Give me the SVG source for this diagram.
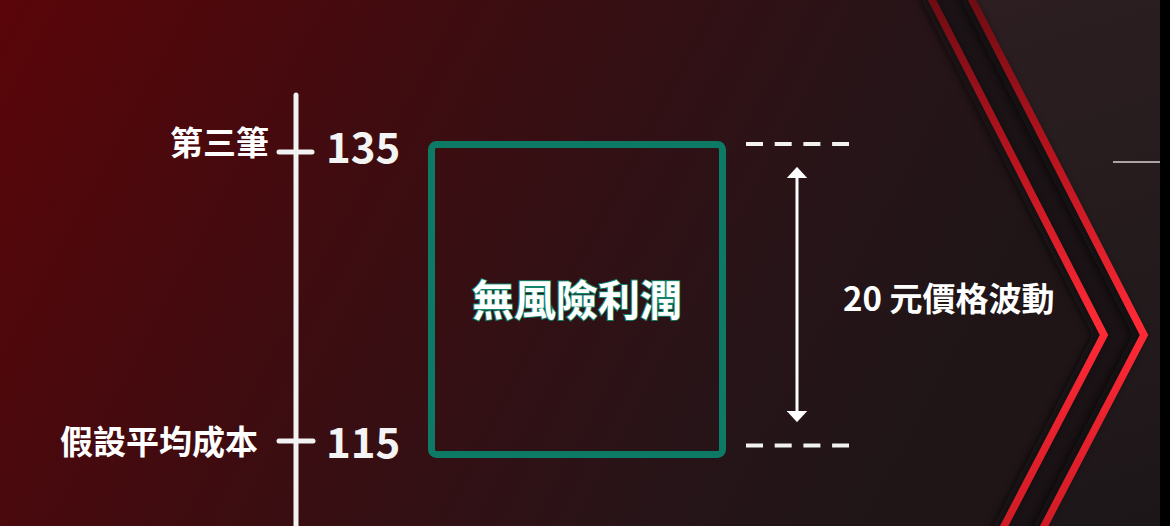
<svg xmlns="http://www.w3.org/2000/svg" width="1170" height="526" viewBox="0 0 1170 526">
  <defs>
    <linearGradient id="bg" gradientUnits="userSpaceOnUse" x1="0" y1="0" x2="900" y2="480">
      <stop offset="0" stop-color="#5a0509"/>
      <stop offset="0.45" stop-color="#3b0d11"/>
      <stop offset="0.8" stop-color="#271418"/>
      <stop offset="1" stop-color="#1f1517"/>
    </linearGradient>
    <linearGradient id="rightbg" gradientUnits="userSpaceOnUse" x1="1000" y1="0" x2="1160" y2="526">
      <stop offset="0" stop-color="#2c1e21"/>
      <stop offset="0.5" stop-color="#241b1d"/>
      <stop offset="1" stop-color="#1d1618"/>
    </linearGradient>
    <linearGradient id="red" gradientUnits="userSpaceOnUse" x1="0" y1="0" x2="0" y2="526">
      <stop offset="0" stop-color="#6e0c13"/>
      <stop offset="0.3" stop-color="#b8141f"/>
      <stop offset="0.62" stop-color="#ff2a36"/>
      <stop offset="1" stop-color="#d01b26"/>
    </linearGradient>
    <filter id="blur" x="-20%" y="-20%" width="140%" height="140%">
      <feGaussianBlur stdDeviation="4"/>
    </filter>
    <marker id="ah" viewBox="0 0 10 10" refX="2" refY="5" markerWidth="3.8" markerHeight="7" markerUnits="strokeWidth" orient="auto-start-reverse" preserveAspectRatio="none">
      <path d="M0,0 L10,5 L0,10 z" fill="#ffffff"/>
    </marker>
    <style>
      .lbl { font-family: "Noto Sans CJK TC", "Noto Sans", sans-serif; font-weight: 700; fill: #ffffff; }
      .num { font-family: "Noto Sans CJK TC", "Noto Sans", sans-serif; font-weight: 700; fill: #f4f4f4; font-size: 42px; }
      .axis { stroke: #f2f2f2; stroke-width: 5; stroke-linecap: round; fill: none; }
      .dash { stroke: #f2f2f2; stroke-width: 4; stroke-dasharray: 17 11.7; fill: none; }
      .chev { fill: none; stroke: url(#red); stroke-width: 7.5; stroke-linejoin: miter; }
      .shadow { fill: none; stroke: #0c0708; stroke-width: 10; opacity: 0.8; }
    </style>
  </defs>

  <!-- background -->
  <rect x="0" y="0" width="1170" height="526" fill="url(#bg)"/>
  <polygon points="935,0 1160,0 1160,526 1045,526 1148,335" fill="url(#rightbg)"/>
  <polygon points="930,0 970,0 1144,335 1042,526 1002,526 1104,335" fill="#1a1214"/>
  <rect x="1160" y="0" width="10" height="526" fill="#000000"/>

  <!-- chevrons -->
  <g id="chevrons">
    <polyline class="shadow" filter="url(#blur)" points="924,-5 1098,335 996,531"/>
    <polyline class="shadow" filter="url(#blur)" points="964,-5 1138,335 1036,531"/>
    <polyline class="chev" points="928,-8 1104,335 1000,534"/>
    <polyline class="chev" points="968,-8 1144,335 1040,534"/>
  </g>
  <line x1="1113" y1="162" x2="1160" y2="162" stroke="#d8d2d2" stroke-width="1.5"/>

  <!-- axis -->
  <g id="axis">
    <line class="axis" x1="296" y1="95" x2="296" y2="530"/>
  </g>

  <g id="tick-135">
    <line class="axis" x1="279" y1="152" x2="312" y2="152"/>
    <text class="lbl" x="269" y="155" font-size="33" text-anchor="end">第三筆</text>
    <text class="num" x="326" y="163">135</text>
  </g>

  <g id="tick-115">
    <line class="axis" x1="279" y1="441" x2="313" y2="441"/>
    <text class="lbl" x="258" y="454" font-size="33" text-anchor="end">假設平均成本</text>
    <text class="num" x="326" y="458">115</text>
  </g>

  <g id="box">
    <rect x="431.5" y="144.5" width="291" height="310" rx="5" fill="none" stroke="#0c7a65" stroke-width="7"/>
    <text class="lbl" x="577" y="316" font-size="42" text-anchor="middle" stroke="#13836c" stroke-width="2" paint-order="stroke">無風險利潤</text>
  </g>

  <g id="range">
    <text class="lbl" x="843" y="311" font-size="33">20 元價格波動</text>
  </g>

  <g id="connectors">
    <line class="dash" x1="746" y1="144" x2="849" y2="144"/>
    <line class="dash" x1="746" y1="445.5" x2="849" y2="445.5"/>
    <line x1="797" y1="176" x2="797" y2="413" stroke="#ffffff" stroke-width="3" marker-start="url(#ah)" marker-end="url(#ah)"/>
  </g>
</svg>
